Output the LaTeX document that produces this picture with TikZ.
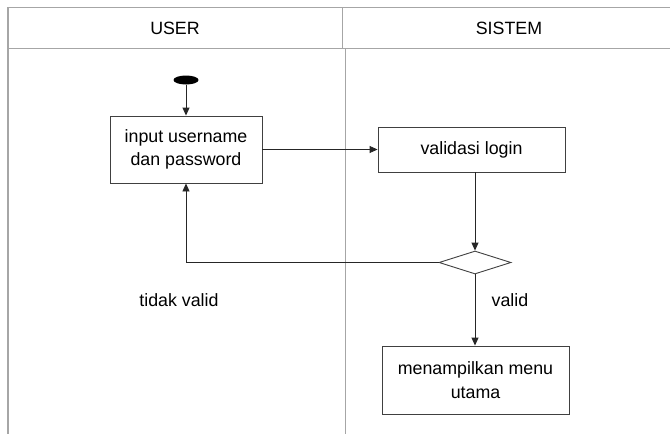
\documentclass[tikz,border=0pt]{standalone}
\usepackage{fontspec}
\setmainfont{Liberation Sans}
\usetikzlibrary{shapes.geometric,arrows.meta}
\begin{document}
\begin{tikzpicture}[x=1pt,y=-1pt,
  lane/.style={draw=black!35,line width=1.2pt},
  actbox/.style={draw=black!75,line width=0.9pt,fill=white,inner sep=0pt,align=center,font=\fontsize{17.8}{23.5}\selectfont},
  flow/.style={draw=black!85,line width=0.9pt,-{Triangle[length=8pt,width=7pt]}},
  lbl/.style={font=\fontsize{17.8}{23.5}\selectfont,inner sep=0pt},
  hdr/.style={font=\fontsize{17.8}{23.5}\selectfont,inner sep=0pt}]
\useasboundingbox (0,0) rectangle (670,434);
\fill[white] (0,0) rectangle (670,434);
% swimlanes
\draw[lane] (670,7.5) -- (8,7.5) -- (8,434);
\draw[lane] (8,48.5) -- (670,48.5);
\draw[lane,line width=0.9pt] (342,7.5) -- (342,48.5);
\draw[lane,line width=0.9pt] (345,48.5) -- (345,434);
\node[hdr] (huser) at (175,28) {USER};
\node[hdr] (hsis) at (509,28) {SISTEM};
% nodes
\node[ellipse,fill=black,minimum width=25pt,minimum height=9pt,inner sep=0pt] (start) at (186,80) {};
\node[actbox,minimum width=152pt,minimum height=67pt] (input) at (186,149.5) {input username\\dan password};
\node[actbox,minimum width=187pt,minimum height=45pt] (valid) at (471.5,149.5) {validasi login};
\node[diamond,draw=black!75,line width=0.9pt,fill=white,aspect=3.1,minimum width=72pt,minimum height=23pt,inner sep=0pt] (dec) at (475,262.5) {};
\node[actbox,minimum width=187pt,minimum height=68pt] (menu) at (475.5,380) {menampilkan menu\\utama};
\coordinate (corner) at (186,262.5);
% connectors
\draw[flow] (start) -- (input);
\draw[flow] (input.east) -- (valid.west);
\draw[flow] (valid.south -| dec.north) -- (dec.north);
\draw[flow] (dec.west) -- (corner) -- (input.south);
\draw[flow] (dec.south) -- (menu.north -| dec.south);
% labels
\node[lbl] (tv) at (179,300) {tidak valid};
\node[lbl] (v) at (510,300) {valid};
\end{tikzpicture}
\end{document}
